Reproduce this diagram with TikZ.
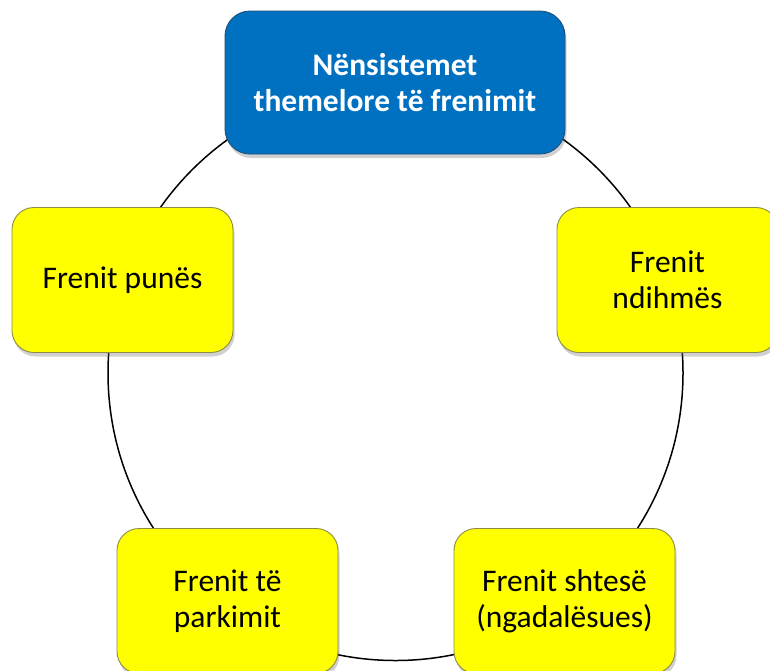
\documentclass[tikz,border=0pt]{standalone}
\usepackage{fontspec}
\setmainfont{Carlito}
\usetikzlibrary{shadows}
\definecolor{hubblue}{HTML}{0070C0}
\definecolor{hubedge}{HTML}{1F4E79}
\definecolor{brakeyellow}{HTML}{FFFF00}
\definecolor{brakeedge}{HTML}{8C8C46}
\tikzset{
  box/.style={rounded corners=22pt, line width=0.9pt, align=center,
    inner sep=0pt, minimum width=221pt, minimum height=145pt,
    font=\fontsize{31.5}{36}\selectfont,
    drop shadow={shadow xshift=1.5pt, shadow yshift=-4pt, opacity=0.3, fill=black!60}},
  hub/.style={box, fill=hubblue, draw=hubedge, text=white,
    minimum width=340pt, minimum height=143pt, rounded corners=25pt,
    font=\fontsize{31.5}{36}\selectfont\bfseries},
  brake/.style={box, fill=brakeyellow, draw=brakeedge, text=black},
  ring/.style={line width=1.5pt, draw=black}
}
\begin{document}
\begin{tikzpicture}[x=1pt, y=-1pt]
  \useasboundingbox (0,0) rectangle (770,670);
  \clip (0,0) rectangle (770,670);
  \fill[white] (0,0) rectangle (770,670);
  % the cycle running through all five subsystems
  \coordinate (c) at (395.5,373);
  \draw[ring] (c) circle[radius=287.5pt];
  % subsystem boxes
  \node[hub]   (main)    at (395,82.5)   {Nënsistemet\\themelore të frenimit};
  \node[brake] (aux)     at (667.5,280)  {Frenit\\ndihmës};
  \node[brake] (retard)  at (564.5,601)  {Frenit shtesë\\(ngadalësues)};
  \node[brake] (park)    at (227.5,601)  {Frenit të\\parkimit};
  \node[brake] (service) at (122.5,280)  {Frenit punës};
\end{tikzpicture}
\end{document}
